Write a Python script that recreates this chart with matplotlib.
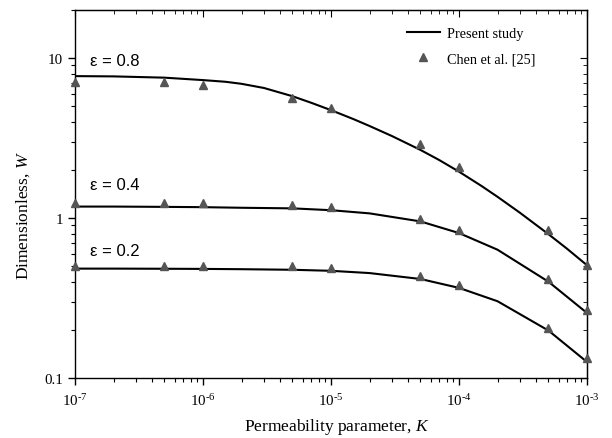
import numpy as np
import matplotlib
matplotlib.use("Agg")
import matplotlib.pyplot as plt
from matplotlib.ticker import FixedLocator, LogLocator, NullFormatter, FixedFormatter

plt.rcParams["font.family"] = "Liberation Serif"
plt.rcParams["mathtext.fontset"] = "custom"
plt.rcParams["mathtext.rm"] = "Liberation Serif"
plt.rcParams["mathtext.it"] = "Liberation Serif:italic"

# Present study (curves)
k_line_08 = [1e-7, 2e-7, 5e-7, 1e-6, 1.5e-6, 2e-6, 3e-6, 5e-6, 7e-6, 1e-5, 1.5e-5, 2e-5,
             3e-5, 5e-5, 7e-5, 1e-4, 1.5e-4, 2e-4, 3e-4, 5e-4, 7e-4, 1e-3]
w_line_08 = [7.72, 7.69, 7.55, 7.29, 7.115, 6.91, 6.505, 5.78, 5.26, 4.73, 4.155, 3.765,
             3.255, 2.667, 2.307, 1.951, 1.587, 1.358, 1.078, 0.793, 0.642, 0.507]
k_line = [1e-7, 2e-7, 5e-7, 1e-6, 2e-6, 5e-6, 1e-5, 2e-5, 5e-5, 1e-4, 2e-4, 5e-4, 1e-3]
w_line_04 = [1.18, 1.18, 1.175, 1.17, 1.16, 1.15, 1.12, 1.07, 0.953, 0.806, 0.634, 0.40, 0.255]
w_line_02 = [0.483, 0.483, 0.482, 0.481, 0.479, 0.475, 0.468, 0.453, 0.416, 0.366, 0.302, 0.198, 0.126]

# Chen et al. [25] (triangles)
k_pts = [1e-7, 5e-7, 1e-6, 5e-6, 1e-5, 5e-5, 1e-4, 5e-4, 1e-3]
w_pts_08 = [7.1, 7.05, 6.78, 5.61, 4.85, 2.91, 2.08, 0.845, 0.51]
w_pts_04 = [1.24, 1.24, 1.24, 1.21, 1.17, 0.985, 0.845, 0.417, 0.268]
w_pts_02 = [0.50, 0.50, 0.50, 0.50, 0.485, 0.432, 0.384, 0.206, 0.134]

x_ticks = [1e-7, 1e-6, 1e-5, 1e-4, 1e-3]
x_tick_labels = [r"$10^{\text{-}7}$", r"$10^{\text{-}6}$", r"$10^{\text{-}5}$",
                 r"$10^{\text{-}4}$", r"$10^{\text{-}3}$"]
y_ticks = [0.1, 1, 10]
y_tick_labels = ["0.1", "1", "10"]

eps_labels = ["ε = 0.8", "ε = 0.4", "ε = 0.2"]
eps_label_w = [9.72, 1.61, 0.625]

fig = plt.figure(figsize=(6.12, 4.39), dpi=100)
ax = fig.add_axes([75 / 612, 1 - 379 / 439, (587 - 75) / 612, (379 - 11) / 439])

tri = dict(marker="^", linestyle="none", color="#555555", markersize=5.5, clip_on=False, zorder=3)
ax.plot(k_line_08, w_line_08, color="black", lw=1.5, label="Present study")
ax.plot(k_line, w_line_04, color="black", lw=1.5)
ax.plot(k_line, w_line_02, color="black", lw=1.5)
ax.plot(k_pts, w_pts_08, label="Chen et al. [25]", **tri)
ax.plot(k_pts, w_pts_04, **tri)
ax.plot(k_pts, w_pts_02, **tri)

ax.set_xscale("log")
ax.set_yscale("log")
ax.set_xlim(1e-7, 1e-3)
ax.set_ylim(0.1, 20)

ax.xaxis.set_major_locator(FixedLocator(x_ticks))
ax.xaxis.set_major_formatter(FixedFormatter(x_tick_labels))
ax.yaxis.set_major_locator(FixedLocator(y_ticks))
ax.yaxis.set_major_formatter(FixedFormatter(y_tick_labels))
ax.yaxis.set_minor_locator(LogLocator(base=10, subs=np.arange(2, 10)))
ax.yaxis.set_minor_formatter(NullFormatter())
ax.xaxis.set_minor_locator(LogLocator(base=10, subs=np.arange(2, 10)))
ax.xaxis.set_minor_formatter(NullFormatter())

ax.tick_params(axis="both", which="major", length=5, width=1, labelsize=10.8)
ax.tick_params(axis="both", which="minor", length=3, width=0.8)
ax.tick_params(axis="x", pad=5)
for s in ax.spines.values():
    s.set_linewidth(1)

# inward ticks on top and right
sec_x = ax.secondary_xaxis("top")
sec_x.set_xscale("log")
sec_x.tick_params(which="both", direction="in", labeltop=False)
sec_x.tick_params(which="major", length=5)
sec_x.tick_params(which="minor", length=3)
sec_x.xaxis.set_minor_locator(LogLocator(base=10, subs=np.arange(2, 10)))
sec_x.xaxis.set_major_formatter(NullFormatter())
sec_x.xaxis.set_minor_formatter(NullFormatter())
sec_y = ax.secondary_yaxis("right")
sec_y.tick_params(which="both", direction="in", labelright=False)
sec_y.tick_params(which="major", length=5)
sec_y.tick_params(which="minor", length=3)
sec_y.yaxis.set_major_locator(FixedLocator(y_ticks))
sec_y.yaxis.set_minor_locator(LogLocator(base=10, subs=np.arange(2, 10)))
sec_y.yaxis.set_major_formatter(NullFormatter())
sec_y.yaxis.set_minor_formatter(NullFormatter())

ax.set_xlabel("Permeability parameter, $K$", fontsize=12.5)
ax.xaxis.set_label_coords((337 - 75) / 512, -(417 - 379) / 368)
ax.set_ylabel("Dimensionless, $W$", fontsize=12.5)
ax.yaxis.set_label_coords(-(75 - 32) / 512, (379 - 216) / 368)

for txt, yv in zip(eps_labels, eps_label_w):
    ax.text(1.3e-7, yv, txt, fontsize=12, family="Liberation Sans", va="center", ha="left")

ax.legend(loc="upper left", bbox_to_anchor=((407 - 75) / 512, 1 - (28 - 11) / 368),
          frameon=False, fontsize=10.3, borderpad=0, borderaxespad=0,
          handlelength=2.3, handletextpad=0.5, labelspacing=0.85, numpoints=1)

fig.savefig("out.png", dpi=100)
